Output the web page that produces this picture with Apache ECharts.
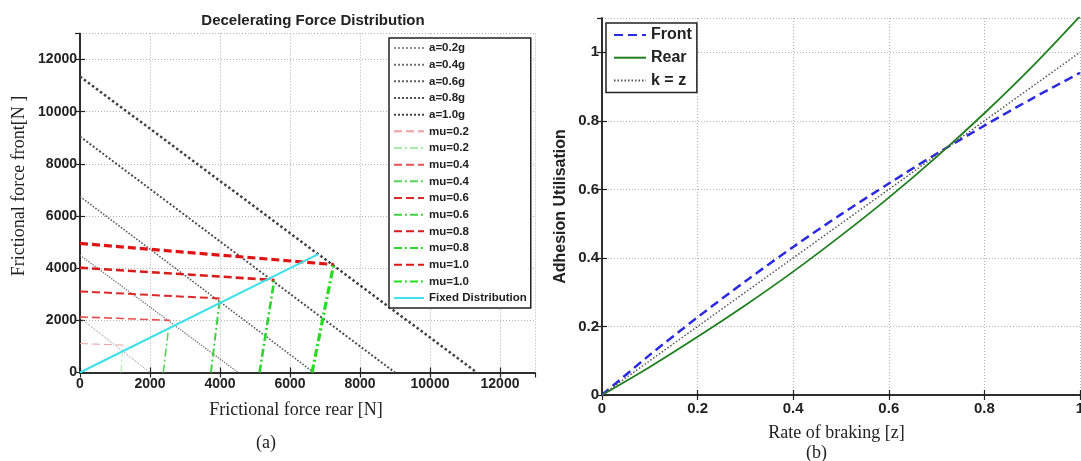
<!DOCTYPE html>
<html>
<head>
<meta charset="utf-8">
<script src="https://cdn.jsdelivr.net/npm/echarts@6/dist/echarts.min.js"></script>
<style>
html,body{margin:0;padding:0;background:#fff;}
#c{width:1081px;height:461px;}
</style>
</head>
<body>
<div id="c"></div>
<script>
// ---------- Left plot (a): Decelerating Force Distribution ----------
const aLabels = ['a=0.2g', 'a=0.4g', 'a=0.6g', 'a=0.8g', 'a=1.0g'];
const aFrontIntercept = [2100, 4500, 6750, 9050, 11350];   // value on front axis at rear = 0
const aRearIntercept  = [2000, 4520, 6680, 9000, 11340];   // value on rear axis at front = 0

const muLabels = ['mu=0.2', 'mu=0.4', 'mu=0.6', 'mu=0.8', 'mu=1.0'];
// front-axle limit lines (red)
const redFrontStart = [1110, 2133, 3110, 4020, 4950];
const redRearEnd    = [1240, 2570, 3990, 5560, 7250];
const redFrontEnd   = [1050, 2000, 2840, 3545, 4140];
// rear-axle limit lines (green)
const greenRearStart = [1170, 2380, 3740, 5130, 6630];
const greenRearEnd   = [1210, 2530, 3990, 5550, 7245];
const greenFrontEnd  = [730, 1690, 2760, 3545, 4125];

const fixedRear  = [0, 6810];
const fixedFront = [0, 4540];

// ---------- Right plot (b): Adhesion utilisation ----------
const zRate  = [0, 0.1, 0.2, 0.3, 0.4, 0.5, 0.6, 0.7, 0.8, 0.9, 1.0];
const front  = [0, 0.117, 0.227, 0.332, 0.432, 0.527, 0.617, 0.704, 0.786, 0.865, 0.940];
const rear   = [0, 0.082, 0.170, 0.262, 0.360, 0.465, 0.576, 0.695, 0.822, 0.958, 1.105];
const kEqZ   = [0, 0.1, 0.2, 0.3, 0.4, 0.5, 0.6, 0.7, 0.8, 0.9, 1.0];

// ---------- styles ----------
const aColors = ['#9a8a8a', '#707070', '#5e5e5e', '#4e4e4e', '#404040'];
const aWidths = [1, 1.3, 1.6, 2, 2.5];
const redColors = ['#f0a0a0', '#e45050', '#dc2a2a', '#d81c1c', '#e01414'];
const greenColors = ['#a8e8a8', '#5ad45a', '#40d040', '#30d430', '#22dd22'];
const muWidths = [1, 1.6, 2, 2.6, 3.2];

const SANS = 'Liberation Sans';
const SERIF = 'Liberation Serif';

const series = [];
const legendLeft = [];
aLabels.forEach((n, i) => {
  series.push({
    name: n, type: 'line', xAxisIndex: 0, yAxisIndex: 0, symbol: 'none', silent: true,
    lineStyle: { color: aColors[i], width: aWidths[i], type: 'dotted' },
    data: [[0, aFrontIntercept[i]], [aRearIntercept[i], 0]]
  });
  legendLeft.push(n);
});
muLabels.forEach((n, i) => {
  const rn = n, gn = n + ' ';
  series.push({
    name: rn, type: 'line', xAxisIndex: 0, yAxisIndex: 0, symbol: 'none', silent: true,
    lineStyle: { color: redColors[i], width: muWidths[i], type: [8, 4] },
    data: [[0, redFrontStart[i]], [redRearEnd[i], redFrontEnd[i]]]
  });
  series.push({
    name: gn, type: 'line', xAxisIndex: 0, yAxisIndex: 0, symbol: 'none', silent: true,
    lineStyle: { color: greenColors[i], width: muWidths[i], type: [8, 3, 2, 3] },
    data: [[greenRearStart[i], 0], [greenRearEnd[i], greenFrontEnd[i]]]
  });
  legendLeft.push(rn, gn);
});
series.push({
  name: 'Fixed Distribution', type: 'line', xAxisIndex: 0, yAxisIndex: 0, symbol: 'none', silent: true,
  lineStyle: { color: '#3ee0ea', width: 2.2, type: 'solid' },
  data: fixedRear.map((r, i) => [r, fixedFront[i]])
});
legendLeft.push('Fixed Distribution');

series.push({
  name: 'Front', type: 'line', xAxisIndex: 2, yAxisIndex: 2, symbol: 'none', silent: true, smooth: 0.3,
  lineStyle: { color: '#2a2ae0', width: 2.5, type: [9, 5] },
  data: zRate.map((z, i) => [z, front[i]])
});
series.push({
  name: 'Rear', type: 'line', xAxisIndex: 2, yAxisIndex: 2, symbol: 'none', silent: true, smooth: 0.3,
  lineStyle: { color: '#1f7f1f', width: 1.8, type: 'solid' },
  data: zRate.map((z, i) => [z, rear[i]])
});
series.push({
  name: 'k = z', type: 'line', xAxisIndex: 2, yAxisIndex: 2, symbol: 'none', silent: true,
  lineStyle: { color: '#555555', width: 1.5, type: [1.5, 2] },
  data: zRate.map((z, i) => [z, kEqZ[i]])
});

const axisLineStyle = { show: true, lineStyle: { color: '#222', width: 1.5 } };
const splitDotted = { show: true, lineStyle: { color: '#b0b0b0', width: 1, type: [1, 2] } };

function mainAxis(extra) {
  return Object.assign({
    type: 'value',
    axisLine: axisLineStyle,
    axisTick: { show: true, inside: true, length: 5, lineStyle: { color: '#222', width: 1.2 } },
    splitLine: splitDotted,
  }, extra);
}
function mirrorAxis(extra) {
  return Object.assign({
    type: 'value',
    axisLine: axisLineStyle,
    axisTick: { show: true, inside: true, length: 5, lineStyle: { color: '#222', width: 1.2 } },
    axisLabel: { show: false },
    splitLine: { show: false },
  }, extra);
}

const plain = v => String(v);
const leftLabel = { fontFamily: SANS, fontWeight: 'bold', fontSize: 14, color: '#222', showMaxLabel: false, formatter: plain };
const rightLabel = { fontFamily: SANS, fontWeight: 'bold', fontSize: 15, color: '#222', formatter: plain };
const hiddenSymbol = { color: 'transparent', borderColor: 'transparent', borderWidth: 0, opacity: 0 };

const option = {
  backgroundColor: '#fff',
  animation: false,
  title: {
    text: 'Decelerating Force Distribution',
    left: 308, top: 8, textAlign: 'center',
    textStyle: { fontFamily: SANS, fontWeight: 'bold', fontSize: 15, color: '#222' }
  },
  grid: [
    { left: 80, top: 33.5, width: 455, height: 339, show: false, containLabel: false, outerBoundsMode: 'none' },
    { left: 602, top: 18, width: 478, height: 377, show: false, containLabel: false, outerBoundsMode: 'none' }
  ],
  xAxis: [
    mainAxis({ gridIndex: 0, min: 0, max: 13000, interval: 2000, position: 'bottom',
      axisLabel: Object.assign({ margin: 5 }, leftLabel) }),
    mirrorAxis({ gridIndex: 0, min: 0, max: 13000, interval: 2000, position: 'top' }),
    mainAxis({ gridIndex: 1, min: 0, max: 1, interval: 0.2, position: 'bottom',
      axisLabel: Object.assign({ margin: 6 }, rightLabel),
      name: 'Rate of braking [z]', nameLocation: 'middle', nameGap: 29,
      nameTextStyle: { fontFamily: SERIF, fontSize: 18, color: '#222', padding: [0, 9, 0, 0] } }),
    mirrorAxis({ gridIndex: 1, min: 0, max: 1, interval: 0.2, position: 'top' })
  ],
  yAxis: [
    mainAxis({ gridIndex: 0, min: 0, max: 13000, interval: 2000, position: 'left',
      axisLabel: Object.assign({ margin: 3 }, leftLabel) }),
    mirrorAxis({ gridIndex: 0, min: 0, max: 13000, interval: 2000, position: 'right' }),
    mainAxis({ gridIndex: 1, min: 0, max: 1.1, interval: 0.2, position: 'left',
      axisLabel: Object.assign({ margin: 3 }, rightLabel, { showMaxLabel: false }),
      name: 'Adhesion Utilisation', nameLocation: 'middle', nameGap: 33, nameRotate: 90,
      nameTextStyle: { fontFamily: SANS, fontWeight: 'bold', fontSize: 16, color: '#222' } }),
    mirrorAxis({ gridIndex: 1, min: 0, max: 1.1, interval: 0.2, position: 'right' })
  ],
  legend: [
    {
      data: legendLeft, orient: 'vertical', left: 389, top: 38,
      itemWidth: 30, itemHeight: 11, itemGap: 4.67,
      padding: [4, 4, 4, 4],
      backgroundColor: '#fff', borderColor: '#222', borderWidth: 1.5, borderRadius: 0,
      selectedMode: false,
      itemStyle: hiddenSymbol,
      formatter: n => n.trim(),
      textStyle: { fontFamily: SANS, fontWeight: 'bold', fontSize: 11.5, lineHeight: 11, color: '#222' }
    },
    {
      data: ['Front', 'Rear', 'k = z'], orient: 'vertical', left: 606, top: 23,
      itemWidth: 32, itemHeight: 16, itemGap: 6.7,
      padding: [4, 5, 4, 7],
      backgroundColor: '#fff', borderColor: '#222', borderWidth: 1.5, borderRadius: 0,
      selectedMode: false,
      itemStyle: hiddenSymbol,
      textStyle: { fontFamily: SANS, fontWeight: 'bold', fontSize: 16, lineHeight: 16, color: '#222' }
    }
  ],
  graphic: [
    { type: 'text', x: 296, y: 410, style: { text: 'Frictional force rear [N]', font: '18px "Liberation Serif"', fill: '#222', align: 'center', verticalAlign: 'middle' } },
    { type: 'text', x: 19, y: 186, rotation: Math.PI / 2, style: { text: 'Frictional force front[N ]', font: '18px "Liberation Serif"', fill: '#222', align: 'center', verticalAlign: 'middle' } },
    { type: 'text', left: 256, top: 434, style: { text: '(a)', font: '18px "Liberation Serif"', fill: '#222' } },
    { type: 'text', left: 806, top: 444, style: { text: '(b)', font: '18px "Liberation Serif"', fill: '#222' } }
  ],
  series: series
};

const chart = echarts.init(document.getElementById('c'), null, { renderer: 'canvas' });
chart.setOption(option);
</script>
</body>
</html>
